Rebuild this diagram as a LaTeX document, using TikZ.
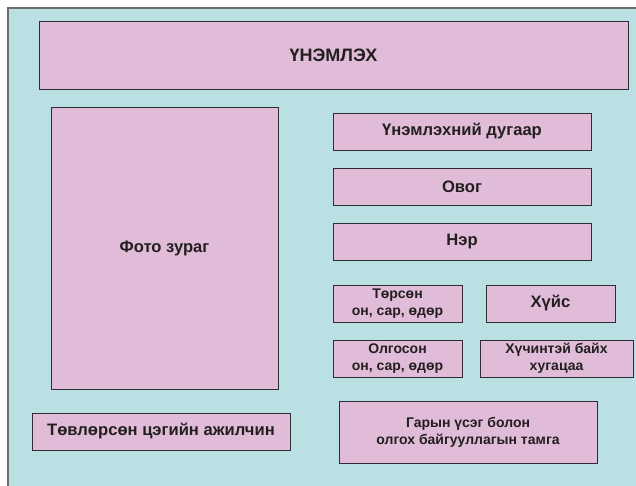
\documentclass[tikz,border=0pt]{standalone}
\usepackage{fontspec}
\setmainfont{Liberation Sans}
\definecolor{bgcol}{RGB}{186,224,228}
\definecolor{boxcol}{RGB}{224,188,216}
\definecolor{edgecol}{RGB}{45,45,50}
\definecolor{framecol}{RGB}{110,110,110}
\definecolor{txtcol}{RGB}{35,31,32}
\tikzset{
  cardbox/.style={draw=edgecol, fill=boxcol, line width=0.9pt, inner sep=0pt, outer sep=0pt,
    text=txtcol, align=center},
  bigtext/.style={font=\bfseries\fontsize{16.6}{19}\selectfont},
  smalltext/.style={font=\bfseries\fontsize{14}{17}\selectfont},
}
\begin{document}
\begin{tikzpicture}[x=1pt,y=-1pt]
\useasboundingbox (0,0) rectangle (636,486);
\fill[white] (0,0) rectangle (636,486);
\fill[bgcol] (8,8) rectangle (640,490);
\draw[framecol, line width=1.6pt] (8,490) -- (8,8) -- (640,8);
\node[cardbox, font=\bfseries\fontsize{18}{21}\selectfont, minimum width=589pt, minimum height=68pt] (title) at (333.5,55) {ҮНЭМЛЭХ};
\node[cardbox, bigtext, minimum width=227pt, minimum height=282pt] (photo) at (164.5,248) {Фото зураг};
\node[cardbox, bigtext, minimum width=258pt, minimum height=37pt] (num) at (462,131.5) {Үнэмлэхний дугаар};
\node[cardbox, bigtext, minimum width=258pt, minimum height=37pt] (ovog) at (462,186.5) {Овог};
\node[cardbox, bigtext, minimum width=258pt, minimum height=37pt] (ner) at (462,241.5) {Нэр};
\node[cardbox, smalltext, minimum width=129pt, minimum height=37pt] (torson) at (397.5,303.5) {Төрсөн\\он, сар, өдөр};
\node[cardbox, bigtext, minimum width=129pt, minimum height=37pt] (huis) at (550.5,303.5) {Хүйс};
\node[cardbox, smalltext, minimum width=129pt, minimum height=37pt] (olgoson) at (397.5,358.5) {Олгосон\\он, сар, өдөр};
\node[cardbox, smalltext, minimum width=153pt, minimum height=37pt] (huchin) at (556.5,358.5) {Хүчинтэй байх\\хугацаа};
\node[cardbox, smalltext, minimum width=258pt, minimum height=62pt] (garyn) at (468,432) {Гарын үсэг болон\\олгох байгууллагын тамга};
\node[cardbox, bigtext, minimum width=258pt, minimum height=37pt] (tovl) at (161,431.5) {Төвлөрсөн цэгийн ажилчин};
\end{tikzpicture}
\end{document}
